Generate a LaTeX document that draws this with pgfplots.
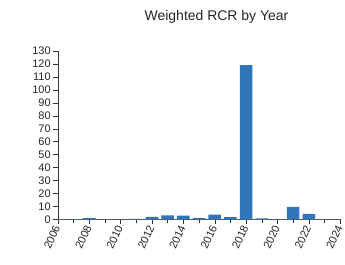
\documentclass[border=0pt]{standalone}
\usepackage{fontspec}
\setmainfont{Liberation Sans}
\usepackage{pgfplots}
\pgfplotsset{compat=1.18}
\definecolor{barblue}{RGB}{49,118,186}
\begin{document}
\begin{tikzpicture}
\begin{axis}[
  at={(0,0)}, anchor=south west,
  scale only axis, width=283pt, height=169pt,
  xmin=2006, xmax=2024, ymin=0, ymax=130,
  axis lines=left, axis line style={-},
  x axis line style={gray!70!black},
  y axis line style={black!80},
  xtick={2006,2008,...,2024},
  minor xtick={2007,2009,...,2023},
  ytick={0,10,...,130},
  tick align=outside,
  major tick length=5pt, minor tick length=4pt,
  every tick/.style={black!80},
  /pgf/number format/assume math mode=true,
  /pgf/number format/1000 sep={},
  tick label style={font=\fontsize{11}{12}\selectfont, black!85},
  xticklabel style={rotate=65, anchor=east, inner sep=1.5pt},
  yticklabel style={inner sep=2pt},
  ybar, bar width=0.8, bar shift=0pt,
  clip=false,
]
\addplot[fill=barblue, draw=none] coordinates {
  (2007,0.3) (2008,1.0) (2011,0.5) (2012,2.0) (2013,3.2) (2014,3.0)
  (2015,1.0) (2016,3.8) (2017,1.8) (2018,119) (2019,0.8) (2021,9.8) (2022,4.4)
};
\end{axis}
\node[font=\fontsize{14}{16}\selectfont, black!85] at (159pt,203pt) {Weighted RCR by Year};
\path (-58pt,-45pt) rectangle (287pt,220pt);
\end{tikzpicture}
\end{document}
